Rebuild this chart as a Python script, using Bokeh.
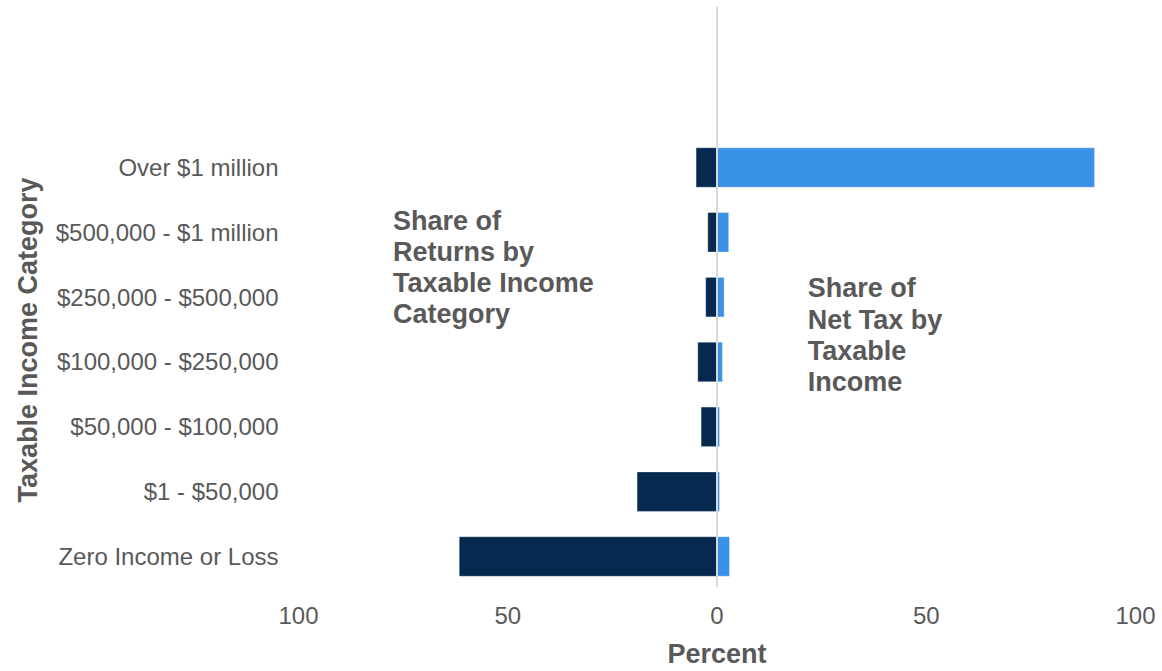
from bokeh.plotting import figure
from bokeh.models import ColumnDataSource, Range1d, FixedTicker, Span, Title
from bokeh.core.properties import value
from bokeh.embed import file_html
from bokeh.resources import INLINE

categories = ["Zero Income or Loss", "$1 - $50,000", "$50,000 - $100,000",
              "$100,000 - $250,000", "$250,000 - $500,000",
              "$500,000 - $1 million", "Over $1 million"]
returns_share = [61.6, 19.1, 3.8, 4.6, 2.7, 2.2, 5.0]
tax_share = [3.0, 0.6, 0.6, 1.3, 1.7, 2.8, 90.2]
x_ticks = [-100, -50, 0, 50, 100]
x_tick_labels = ["100", "50", "0", "50", "100"]

FONT = "Liberation Sans"
GREY = "#595959"
DARK = "#062A4F"
LIGHT = "#3A91E8"

pos = list(range(len(categories)))
src = ColumnDataSource(dict(
    y=pos,
    ret=[-v for v in returns_share],
    tax=tax_share,
    zero=[0] * len(categories),
))

p = figure(width=1162, height=671, output_backend="svg", toolbar_location=None,
           x_range=Range1d(-100, 100), y_range=Range1d(-0.478, 8.483),
           min_border_left=298, min_border_right=27, min_border_top=6,
           min_border_bottom=81)
p.outline_line_color = None
p.xgrid.visible = False
p.ygrid.visible = False

p.hbar(y="y", left="ret", right="zero", height=0.61, source=src,
       fill_color=DARK, line_color="white", line_alpha=0.35, line_width=1)
p.hbar(y="y", left="zero", right="tax", height=0.61, source=src,
       fill_color=LIGHT, line_color="white", line_alpha=0.35, line_width=1)

p.add_layout(Span(location=0, dimension="height", line_color="#D9D9D9",
                  line_width=2))

p.text(x=[-77.4], y=[5.413],
       text=["Share of\nReturns by\nTaxable Income\nCategory"],
       text_font=value(FONT), text_font_style="bold", text_font_size="27px",
       text_color=GREY, text_baseline="top", text_align="left",
       text_line_height=1.04)
p.text(x=[21.7], y=[4.365],
       text=["Share of\nNet Tax by\nTaxable\nIncome"],
       text_font=value(FONT), text_font_style="bold", text_font_size="27px",
       text_color=GREY, text_baseline="top", text_align="left",
       text_line_height=1.04)

xa = p.xaxis[0]
xa.ticker = FixedTicker(ticks=x_ticks)
xa.major_label_overrides = {t: l for t, l in zip(x_ticks, x_tick_labels)}
xa.axis_label = "Percent"

ya = p.yaxis[0]
ya.ticker = FixedTicker(ticks=pos)
ya.major_label_overrides = {i: c for i, c in zip(pos, categories)}

for ax in (xa, ya):
    ax.axis_line_color = None
    ax.major_tick_line_color = None
    ax.minor_tick_line_color = None
    ax.major_tick_out = 0
    ax.major_tick_in = 0
    ax.major_label_text_font = FONT
    ax.major_label_text_font_size = "24px"
    ax.major_label_text_color = GREY
    ax.axis_label_text_font = FONT
    ax.axis_label_text_font_size = "27px"
    ax.axis_label_text_font_style = "bold"
    ax.axis_label_text_color = GREY

xa.major_label_standoff = 19
xa.axis_label_standoff = 12
ya.major_label_standoff = 20

p.add_layout(Title(text="Taxable Income Category", align="left",
                   offset=85, standoff=19, text_font=FONT,
                   text_font_size="27px", text_font_style="bold",
                   text_color=GREY), "left")

open("out.html", "w").write(file_html(p, INLINE))
